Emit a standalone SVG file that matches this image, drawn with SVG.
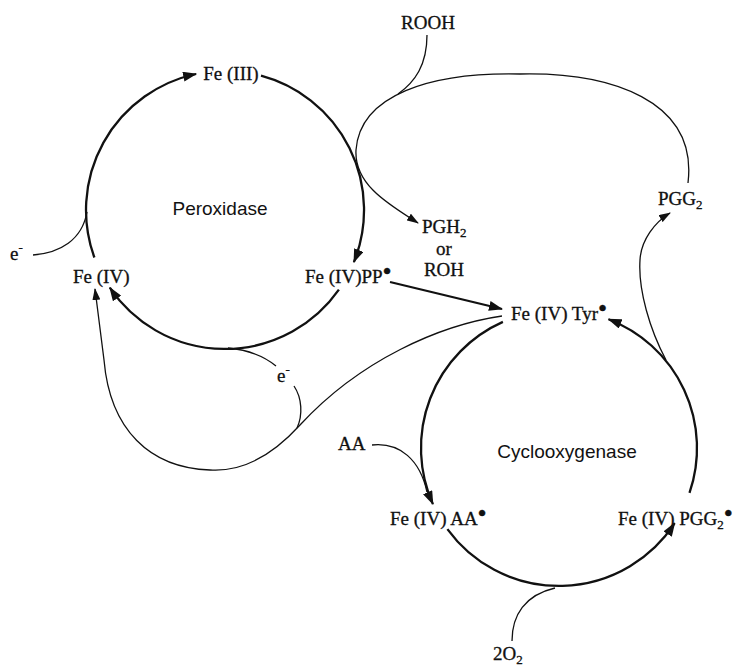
<svg xmlns="http://www.w3.org/2000/svg" width="734" height="666" viewBox="0 0 734 666">
<style>
.t{font-family:"Liberation Serif","Times New Roman",serif;font-size:19px;fill:#111;stroke:#111;stroke-width:0.3}
.s{font-family:"Liberation Sans",Arial,sans-serif;font-size:19px;fill:#111}
.sub{font-size:13px}
.dot{font-size:26px}
.thick{fill:none;stroke:#111;stroke-width:2.3}
.thin{fill:none;stroke:#111;stroke-width:1.3}
</style>
<defs>
<marker id="ah" markerUnits="userSpaceOnUse" markerWidth="14" markerHeight="10" refX="13" refY="5" orient="auto">
<path d="M0,0 L14,5 L0,10 z" fill="#111"/>
</marker>
<marker id="ahs" markerUnits="userSpaceOnUse" markerWidth="12" markerHeight="8" refX="11" refY="4" orient="auto">
<path d="M0,0 L12,4 L0,8 z" fill="#111"/>
</marker>
</defs>
<rect width="734" height="666" fill="#fff"/>
<g id="connectors">
<path class="thick" d="M94.4,257.5 A139,139 0 0 1 196.1,74" marker-end="url(#ah)"/>
<path class="thick" d="M261,75.7 A139,139 0 0 1 353.9,262.1" marker-end="url(#ah)"/>
<path class="thick" d="M338.9,289.7 A139,139 0 0 1 109.8,287.7" marker-end="url(#ah)"/>
<path class="thick" d="M502.9,321.9 A138,138 0 0 0 432.9,504.1" marker-end="url(#ah)"/>
<path class="thick" d="M447.4,529.1 A138,138 0 0 0 674.7,523.2" marker-end="url(#ah)"/>
<path class="thick" d="M689.5,492.9 A138,138 0 0 0 608.5,319.2" marker-end="url(#ah)"/>
<path class="thick" d="M390,282 L502,309" marker-end="url(#ah)"/>
<path class="thin" d="M427,35 C427,65 415,82 398,94"/>
<path class="thin" d="M688,183 C698,100 610,72 520,74 C430,72 360,95 356,150 C354,185 390,205 418,223" marker-end="url(#ahs)"/>
<path class="thin" d="M666,360 C650,330 638,290 640,260 C641,240 655,222 670,213" marker-end="url(#ahs)"/>
<path class="thin" d="M502,316 C440,325 360,360 300,425 C270,458 240,472 210,470 C150,468 110,430 104,360 L95,289" marker-end="url(#ahs)"/>
<path class="thin" d="M228,348 C250,350 265,357 276,366"/>
<path class="thin" d="M294,386 C302,398 303,415 297,428"/>
<path class="thin" d="M33,255 C60,253 82,240 87,212"/>
<path class="thin" d="M372,445 C400,442 420,460 427,492"/>
<path class="thin" d="M512,641 C512,615 525,595 555,588"/>
</g>
<g id="n-rooh"><text class="t" x="428" y="29" text-anchor="middle">ROOH</text></g>
<g id="n-fe3"><text class="t" x="231" y="80" text-anchor="middle">Fe (III)</text></g>
<g id="n-peroxidase"><text class="s" x="220" y="215" text-anchor="middle">Peroxidase</text></g>
<g id="n-e-left"><text class="t" x="10" y="260">e<tspan class="sub" dy="-8">-</tspan></text></g>
<g id="n-fe4"><text class="t" x="73" y="283">Fe (IV)</text></g>
<g id="n-fe4pp"><text class="t" x="305" y="283">Fe (IV)PP<tspan class="dot" dy="-3">•</tspan></text></g>
<g id="n-pgh2"><text class="t" x="422" y="233">PGH<tspan class="sub" dy="4">2</tspan></text>
<text class="t" x="444" y="255" text-anchor="middle">or</text>
<text class="t" x="444" y="276" text-anchor="middle">ROH</text></g>
<g id="n-pgg2"><text class="t" x="658" y="205">PGG<tspan class="sub" dy="4">2</tspan></text></g>
<g id="n-tyr"><text class="t" x="511" y="320">Fe (IV) Tyr<tspan class="dot" dy="-3">•</tspan></text></g>
<g id="n-e-mid"><text class="t" x="277" y="382">e<tspan class="sub" dy="-8">-</tspan></text></g>
<g id="n-aa"><text class="t" x="338" y="450">AA</text></g>
<g id="n-cox"><text class="s" x="567" y="458" text-anchor="middle">Cyclooxygenase</text></g>
<g id="n-fe4aa"><text class="t" x="390" y="525">Fe (IV) AA<tspan class="dot" dy="-3">•</tspan></text></g>
<g id="n-fe4pgg2"><text class="t" x="618" y="525">Fe (IV) PGG<tspan class="sub" dy="4">2</tspan><tspan class="dot" dy="-7">•</tspan></text></g>
<g id="n-o2"><text class="t" x="493" y="660">2O<tspan class="sub" dy="4">2</tspan></text></g>
</svg>
